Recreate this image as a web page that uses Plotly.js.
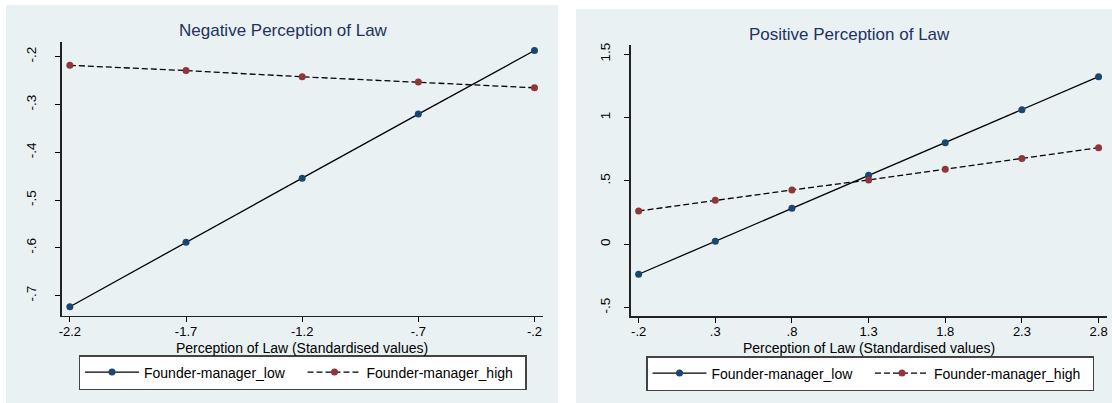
<!DOCTYPE html>
<html>
<head>
<meta charset="utf-8">
<script src="https://cdn.plot.ly/plotly-3.0.1.min.js"></script>
<style>
  html, body { margin: 0; padding: 0; background: #ffffff; }
  #chart { width: 1112px; height: 403px; }
</style>
</head>
<body>
<div id="chart"></div>
<script>
// ---- Data ----
const negX = [-2.2, -1.7, -1.2, -0.7, -0.2];
const negLow = [-0.723, -0.588, -0.454, -0.320, -0.187];
const negHigh = [-0.218, -0.229, -0.242, -0.253, -0.265];
const negXTicks = [-2.2, -1.7, -1.2, -0.7, -0.2];
const negXTickText = ["-2.2", "-1.7", "-1.2", "-.7", "-.2"];
const negYTicks = [-0.7, -0.6, -0.5, -0.4, -0.3, -0.2];
const negYTickText = ["-.7", "-.6", "-.5", "-.4", "-.3", "-.2"];

const posX = [-0.2, 0.3, 0.8, 1.3, 1.8, 2.3, 2.8];
const posLow = [-0.236, 0.024, 0.285, 0.545, 0.802, 1.063, 1.323];
const posHigh = [0.263, 0.348, 0.429, 0.508, 0.592, 0.677, 0.763];
const posXTicks = [-0.2, 0.3, 0.8, 1.3, 1.8, 2.3, 2.8];
const posXTickText = ["-.2", ".3", ".8", "1.3", "1.8", "2.3", "2.8"];
const posYTicks = [-0.5, 0, 0.5, 1, 1.5];
const posYTickText = ["-.5", "0", ".5", "1", "1.5"];

const seriesNames = ["Founder-manager_low", "Founder-manager_high"];
const panelTitles = ["Negative Perception of Law", "Positive Perception of Law"];
const xAxisTitle = "Perception of Law (Standardised values)";

// ---- Styles ----
const W = 1112, H = 403;
const FONT = "Liberation Sans, Arial, sans-serif";
const navy = "#1a476f";
const maroon = "#90353b";
const panelBg = "#eaf1f3";
const gridCol = "#e6eff2";
const titleCol = "#22325f";

function px(x) { return x / W; }
function py(y) { return 1 - y / H; }

const lowLine = { color: "#000000", width: 1.3 };
const highLine = { color: "#000000", width: 1.3, dash: "6px,3px" };

const traces = [
  { x: negX, y: negLow, name: seriesNames[0], type: "scatter", mode: "lines+markers",
    line: lowLine, marker: { color: navy, size: 7 }, xaxis: "x", yaxis: "y", legend: "legend" },
  { x: negX, y: negHigh, name: seriesNames[1], type: "scatter", mode: "lines+markers",
    line: highLine, marker: { color: maroon, size: 7 }, xaxis: "x", yaxis: "y", legend: "legend" },
  { x: posX, y: posLow, name: seriesNames[0], type: "scatter", mode: "lines+markers",
    line: lowLine, marker: { color: navy, size: 7 }, xaxis: "x2", yaxis: "y2", legend: "legend2" },
  { x: posX, y: posHigh, name: seriesNames[1], type: "scatter", mode: "lines+markers",
    line: highLine, marker: { color: maroon, size: 7 }, xaxis: "x2", yaxis: "y2", legend: "legend2" }
];

const tickFont = { family: FONT, size: 13, color: "#000000" };

function xAxis(domain, range, vals, text, anchor) {
  return {
    domain: domain, range: range, anchor: anchor,
    tickmode: "array", tickvals: vals, ticktext: text,
    ticks: "outside", ticklen: 5, tickwidth: 1, tickcolor: "#000000",
    ticklabelstandoff: -2,
    showgrid: false, zeroline: false,
    showline: true, linecolor: "#222222", linewidth: 1.3,
    tickfont: tickFont,
    fixedrange: true
  };
}
function yAxis(domain, range, vals, text, anchor, standoff) {
  return {
    domain: domain, range: range, anchor: anchor,
    tickmode: "array", tickvals: vals, ticktext: text, tickangle: -90,
    ticks: "outside", ticklen: 5, tickwidth: 1, tickcolor: "#000000",
    ticklabelstandoff: standoff,
    showgrid: true, gridcolor: gridCol, gridwidth: 1, zeroline: false,
    showline: true, linecolor: "#222222", linewidth: 1.3,
    tickfont: { family: FONT, size: 13.5, color: "#000000" },
    fixedrange: true
  };
}

const legendCommon = {
  orientation: "h", xanchor: "left", yanchor: "top",
  bgcolor: "#ffffff", bordercolor: "#444444", borderwidth: 1.5,
  font: { family: FONT, size: 14, color: "#000000" },
  itemwidth: 54, entrywidth: 153.5, entrywidthmode: "pixels",
  traceorder: "normal", itemclick: false, itemdoubleclick: false
};

const layout = {
  width: W, height: H,
  margin: { l: 0, r: 0, t: 0, b: 0 },
  paper_bgcolor: "#ffffff",
  plot_bgcolor: "#ffffff",
  showlegend: true,
  xaxis: xAxis([px(61.5), px(543.3)], [-2.236, -0.162], negXTicks, negXTickText, "y"),
  yaxis: yAxis([py(315.7), py(41.7)], [-0.7418, -0.1686], negYTicks, negYTickText, "x", 14),
  xaxis2: xAxis([px(630.5), px(1107)], [-0.253, 2.855], posXTicks, posXTickText, "y2"),
  yaxis2: yAxis([py(316.3), py(45)], [-0.568, 1.573], posYTicks, posYTickText, "x2", 9),
  legend: Object.assign({}, legendCommon, { x: px(78.5), y: py(355) }),
  legend2: Object.assign({}, legendCommon, { x: px(646), y: py(356) }),
  shapes: [
    { type: "rect", xref: "paper", yref: "paper", x0: px(6), x1: px(558), y0: 0, y1: py(5),
      fillcolor: panelBg, line: { width: 0 }, layer: "below" },
    { type: "rect", xref: "paper", yref: "paper", x0: px(576), x1: 1, y0: 0, y1: py(9),
      fillcolor: panelBg, line: { width: 0 }, layer: "below" }
  ],
  annotations: [
    { text: panelTitles[0], xref: "paper", yref: "paper", x: px(283), y: py(31),
      xanchor: "center", yanchor: "middle", showarrow: false,
      font: { family: FONT, size: 17, color: titleCol } },
    { text: panelTitles[1], xref: "paper", yref: "paper", x: px(849.4), y: py(34),
      xanchor: "center", yanchor: "middle", showarrow: false,
      font: { family: FONT, size: 17, color: titleCol } },
    { text: xAxisTitle, xref: "paper", yref: "paper", x: px(302.4), y: py(347.5),
      xanchor: "center", yanchor: "middle", showarrow: false,
      font: { family: FONT, size: 14, color: "#000000" } },
    { text: xAxisTitle, xref: "paper", yref: "paper", x: px(868.7), y: py(348),
      xanchor: "center", yanchor: "middle", showarrow: false,
      font: { family: FONT, size: 14, color: "#000000" } }
  ]
};

Plotly.newPlot("chart", traces, layout, { displayModeBar: false, staticPlot: true });
</script>
</body>
</html>
